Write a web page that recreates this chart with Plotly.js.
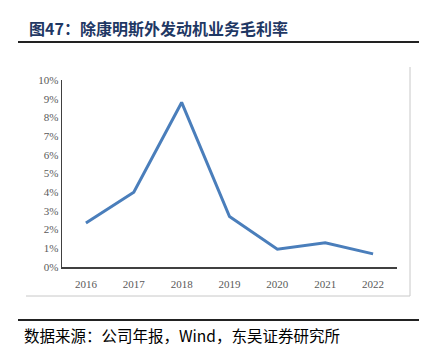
<!DOCTYPE html>
<html>
<head>
<meta charset="utf-8">
<script src="https://cdn.plot.ly/plotly-3.0.1.min.js"></script>
<style>
html,body{margin:0;padding:0;background:#fff;}
#chart{width:431px;height:354px;}
</style>
</head>
<body>
<div id="chart"></div>
<script>
const years = ['2016','2017','2018','2019','2020','2021','2022'];
const margin = [0.0235, 0.040, 0.088, 0.027, 0.0095, 0.013, 0.007];
const yTicks = [0,0.01,0.02,0.03,0.04,0.05,0.06,0.07,0.08,0.09,0.10];
const yTickText = ['0%','1%','2%','3%','4%','5%','6%','7%','8%','9%','10%'];
const chartTitle = '图47：除康明斯外发动机业务毛利率';
const sourceText = '数据来源：公司年报，Wind，东吴证券研究所';

const trace = {
  x: years, y: margin, type: 'scatter', mode: 'lines',
  line: {color: '#4a7ebb', width: 3}, hoverinfo: 'skip'
};

const layout = {
  width: 431, height: 354,
  margin: {l: 62, r: 34, t: 80, b: 87},
  paper_bgcolor: '#fff', plot_bgcolor: '#fff',
  showlegend: false,
  xaxis: {
    type: 'category', range: [-0.5, 6.5],
    showline: true, linecolor: '#404040', linewidth: 1.5,
    showgrid: false, zeroline: false, ticks: '',
    tickfont: {family: 'Liberation Serif, Times New Roman, serif', size: 11, color: '#595959'},
    ticklabelstandoff: 6
  },
  yaxis: {
    range: [0, 0.1], tickvals: yTicks, ticktext: yTickText,
    showline: true, linecolor: '#404040', linewidth: 1.5,
    showgrid: false, zeroline: false, ticks: '',
    tickfont: {family: 'Liberation Serif, Times New Roman, serif', size: 11, color: '#595959'}
  },
  annotations: [
    {text: '<b>' + chartTitle + '</b>', xref: 'paper', yref: 'paper',
     x: (27-62)/335, y: (354-87-28)/187, xanchor: 'left', yanchor: 'middle', showarrow: false,
     font: {family: 'Noto Sans CJK SC', size: 16, color: '#1f3864'}},
    {text: sourceText, xref: 'paper', yref: 'paper',
     x: (22-62)/335, y: (354-87-335)/187, xanchor: 'left', yanchor: 'middle', showarrow: false,
     font: {family: 'Noto Sans CJK SC', size: 15.5, color: '#000'}}
  ],
  shapes: [
    {type: 'line', xref: 'paper', yref: 'paper',
     x0: (18-62)/335, x1: (419-62)/335, y0: (267-42)/187, y1: (267-42)/187,
     line: {color: '#222', width: 2}},
    {type: 'line', xref: 'paper', yref: 'paper',
     x0: (18-62)/335, x1: (419-62)/335, y0: (267-320)/187, y1: (267-320)/187,
     line: {color: '#222', width: 2}},
    {type: 'line', xref: 'paper', yref: 'paper',
     x0: (410-62)/335, x1: (410-62)/335, y0: (267-67)/187, y1: (267-296)/187,
     line: {color: '#c8c8c8', width: 1}},
    {type: 'line', xref: 'paper', yref: 'paper',
     x0: (26-62)/335, x1: (410-62)/335, y0: (267-296)/187, y1: (267-296)/187,
     line: {color: '#c8c8c8', width: 1}}
  ]
};

Plotly.newPlot('chart', [trace], layout, {displayModeBar: false, staticPlot: true});
</script>
</body>
</html>
